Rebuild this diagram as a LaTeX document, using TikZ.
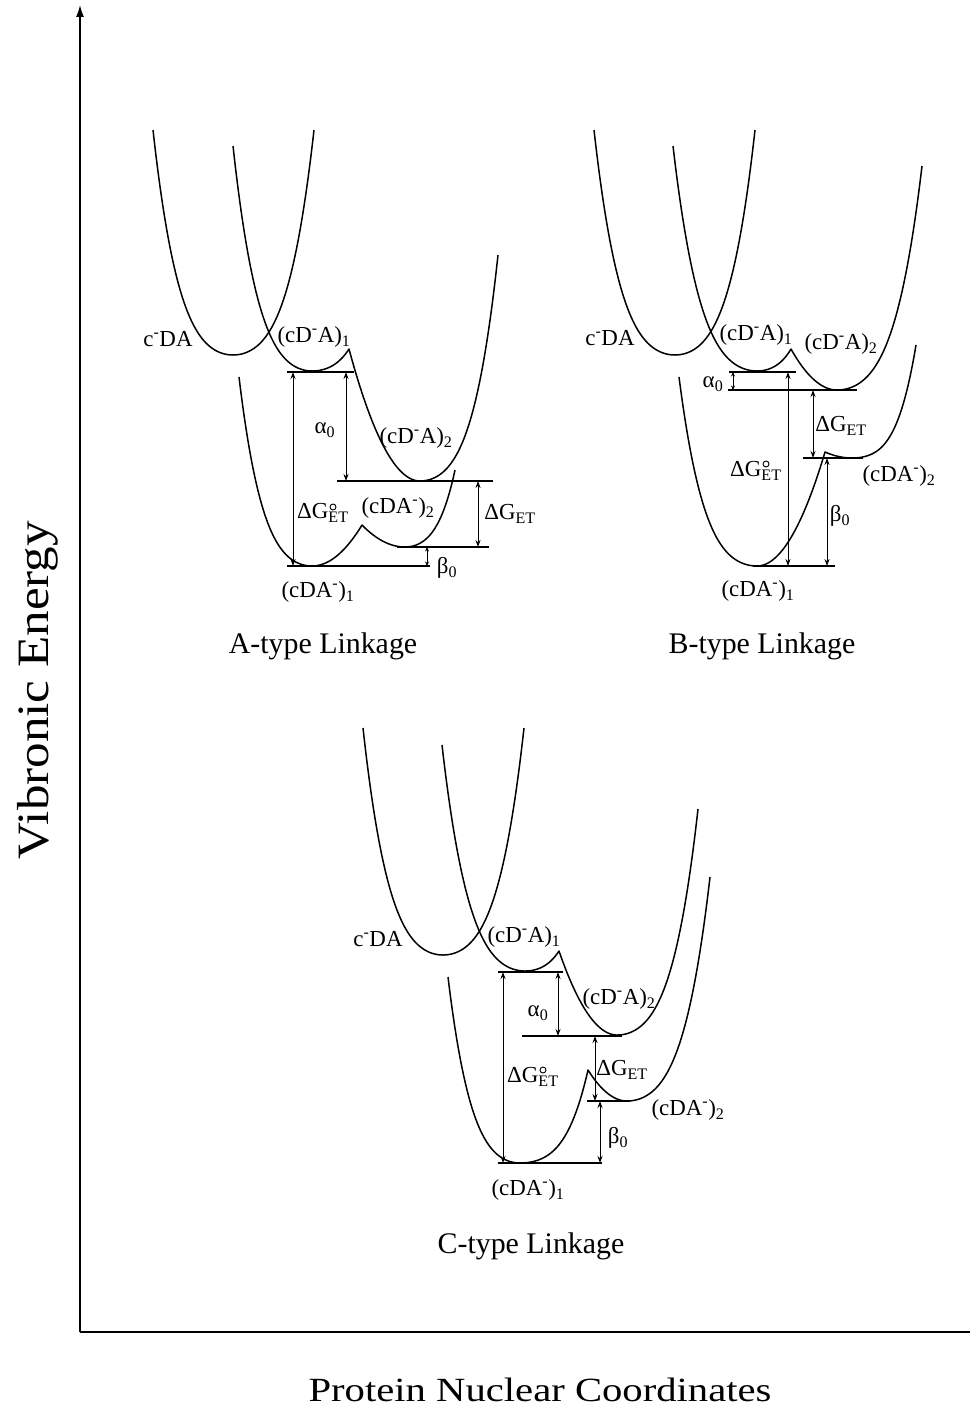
\documentclass[tikz,border=0pt]{standalone}
\usepackage{fontspec}
\setmainfont{Liberation Serif}
\newfontfamily\titlefontA{Liberation Serif}[FakeStretch=1.2]
\newfontfamily\titlefontB{Liberation Serif}[FakeStretch=1.14]
\usetikzlibrary{arrows.meta}
% well branch: vertex (#1,#2), end (#3,#4), quartic mix #5
\newcommand\uu[2]{((\x-#1)/(#2-#1))}
\newcommand\wellfn[5]{#2-(#2-#4)*((1-#5)*\uu{#1}{#3}*\uu{#1}{#3}+#5*\uu{#1}{#3}*\uu{#1}{#3}*\uu{#1}{#3}*\uu{#1}{#3})}
\newcommand\brin[5]{plot[domain=#3:#1,samples=70] (\x,{\wellfn{#1}{#2}{#3}{#4}{#5}})}
\newcommand\cbrin[5]{-- plot[domain=#3:#1,samples=70] (\x,{\wellfn{#1}{#2}{#3}{#4}{#5}})}
\newcommand\cbrout[5]{-- plot[domain=#1:#3,samples=70] (\x,{\wellfn{#1}{#2}{#3}{#4}{#5}})}
\newcommand\cmDA{c\textsuperscript{-}DA}
\newcommand\cDmA[1]{(cD\textsuperscript{-}A)\textsubscript{#1}}
\newcommand\cDAm[1]{(cDA\textsuperscript{-})\textsubscript{#1}}
\newcommand\lDG{ΔG\textsubscript{ET}}
\newcommand\myal{α\textsubscript{0}}
\newcommand\mybe{β\textsubscript{0}}
\tikzset{
  curve/.style={line width=1.5bp, line join=round},
  lvl/.style={line width=1.4bp},
  dim/.style={line width=0.9bp, {Stealth[length=7bp,width=5bp]}-{Stealth[length=7bp,width=5bp]}},
  dimsmall/.style={line width=0.9bp, {Stealth[length=4.5bp,width=4bp]}-{Stealth[length=4.5bp,width=4bp]}},
  lab/.style={font=\fontsize{23}{27}\selectfont, inner sep=0pt},
  ttl/.style={font=\fontsize{30}{34}\selectfont, inner sep=0pt},
  degree/.style={line width=0.9bp}
}
\begin{document}
\begin{tikzpicture}[x=1bp,y=-1bp]
\useasboundingbox (0,0) rectangle (970,1410);
% axes
\coordinate (O) at (80,1332);
\coordinate (Ytop) at (80,5);
\coordinate (Xend) at (970,1332);
\draw[line width=1.5bp, -{Latex[length=12bp,width=8bp]}] (O) -- (Ytop);
\draw[line width=1.8bp] (O) -- (Xend);
\node[font=\titlefontA\fontsize{34}{40}\selectfont, inner sep=0pt] (xt) at (540,1390) {Protein Nuclear Coordinates};
\node[rotate=90, font=\titlefontB\fontsize{45}{50}\selectfont, inner sep=0pt] (yt) at (38,690) {Vibronic Energy};

%================ Panel A ================
\draw[curve] \brin{233}{355}{153}{130}{.6} \cbrout{233}{355}{314}{130}{.6};
\draw[curve] \brin{312}{371}{233}{146}{.6} \cbrout{312}{371}{349}{349}{.3}
   \cbrin{420}{481}{349}{349}{0} \cbrout{420}{481}{498}{255}{.6};
\draw[curve] \brin{312}{566}{239}{377}{.6} \cbrout{312}{566}{362}{525}{0}
   \cbrin{405}{547}{362}{525}{0} \cbrout{405}{547}{455}{470}{.5};
\coordinate (a1l) at (287,372); \coordinate (a1r) at (354,372);
\coordinate (a2l) at (337,481); \coordinate (a2r) at (493,481);
\coordinate (a3l) at (397,547); \coordinate (a3r) at (489,547);
\coordinate (a4l) at (287,566); \coordinate (a4r) at (430,566);
\draw[lvl] (a1l) -- (a1r); \draw[lvl] (a2l) -- (a2r);
\draw[lvl] (a3l) -- (a3r); \draw[lvl] (a4l) -- (a4r);
\coordinate (aGt) at (293,372); \coordinate (aGb) at (293,566);
\coordinate (aAt) at (346,372); \coordinate (aAb) at (346,481);
\coordinate (aEt) at (478,481); \coordinate (aEb) at (478,547);
\coordinate (aBt) at (427,547); \coordinate (aBb) at (427,566);
\draw[dim] (aGt) -- (aGb);
\draw[dim] (aAt) -- (aAb);
\draw[dim] (aEt) -- (aEb);
\draw[dimsmall] (aBt) -- (aBb);
\node[lab] (aL1) at (168,339) {\cmDA};
\node[lab] (aL2) at (314,337) {\cDmA{1}};
\node[lab] (aL3) at (325,430) {\myal};
\node[lab] (aL4) at (416,438) {\cDmA{2}};
\node[lab, anchor=west] (aL5) at (297,513) {\lDG};
\draw[degree] (333,507) circle (3bp);
\node[lab] (aL6) at (398,508) {\cDAm{2}};
\node[lab] (aL7) at (510,514) {\lDG};
\node[lab] (aL8) at (447,568) {\mybe};
\node[lab] (aL9) at (318,592) {\cDAm{1}};
\node[ttl] (aT) at (323,646) {A-type Linkage};

%================ Panel B ================
\draw[curve] \brin{675}{355}{594}{130}{.6} \cbrout{675}{355}{755}{130}{.6};
\draw[curve] \brin{757}{371}{673}{146}{.6} \cbrout{757}{371}{791}{349}{.3}
   \cbrin{837}{390}{791}{349}{0} \cbrout{837}{390}{922}{166}{.6};
\draw[curve] \brin{757}{566}{679}{377}{.6} \cbrout{757}{566}{825}{452}{0}
   \cbrin{852}{458}{825}{452}{0} \cbrout{852}{458}{916}{345}{.7};
\coordinate (b1l) at (729,372); \coordinate (b1r) at (796,372);
\coordinate (b2l) at (728,390); \coordinate (b2r) at (857,390);
\coordinate (b3l) at (803,458); \coordinate (b3r) at (863,458);
\coordinate (b4l) at (753,566); \coordinate (b4r) at (835,566);
\draw[lvl] (b1l) -- (b1r); \draw[lvl] (b2l) -- (b2r);
\draw[lvl] (b3l) -- (b3r); \draw[lvl] (b4l) -- (b4r);
\coordinate (bAt) at (733,372); \coordinate (bAb) at (733,390);
\coordinate (bGt) at (788,372); \coordinate (bGb) at (788,566);
\coordinate (bEt) at (813,390); \coordinate (bEb) at (813,458);
\coordinate (bBt) at (827,458); \coordinate (bBb) at (827,566);
\draw[dimsmall] (bAt) -- (bAb);
\draw[dim] (bGt) -- (bGb);
\draw[dim] (bEt) -- (bEb);
\draw[dim] (bBt) -- (bBb);
\node[lab] (bL1) at (610,338) {\cmDA};
\node[lab] (bL2) at (756,335) {\cDmA{1}};
\node[lab] (bL3) at (841,344) {\cDmA{2}};
\node[lab] (bL4) at (713,384) {\myal};
\node[lab] (bL5) at (841,426) {\lDG};
\node[lab, anchor=west] (bL6) at (730,471) {\lDG};
\draw[degree] (766,464) circle (3bp);
\node[lab] (bL7) at (899,476) {\cDAm{2}};
\node[lab] (bL8) at (840,516) {\mybe};
\node[lab] (bL9) at (758,591) {\cDAm{1}};
\node[ttl] (bT) at (762,646) {B-type Linkage};

%================ Panel C ================
\draw[curve] \brin{443}{955}{363}{728}{.6} \cbrout{443}{955}{524}{728}{.6};
\draw[curve] \brin{525}{971}{442}{745}{.6} \cbrout{525}{971}{559}{951}{.3}
   \cbrin{617}{1035}{559}{951}{0} \cbrout{617}{1035}{698}{809}{.6};
\draw[curve] \brin{520}{1163}{448}{977}{.6} \cbrout{520}{1163}{588}{1070}{.6}
   \cbrin{627}{1101}{588}{1070}{0} \cbrout{627}{1101}{710}{877}{.6};
\coordinate (c1l) at (498,972); \coordinate (c1r) at (563,972);
\coordinate (c2l) at (522,1036); \coordinate (c2r) at (622,1036);
\coordinate (c3l) at (587,1101); \coordinate (c3r) at (630,1101);
\coordinate (c4l) at (498,1163); \coordinate (c4r) at (602,1163);
\draw[lvl] (c1l) -- (c1r); \draw[lvl] (c2l) -- (c2r);
\draw[lvl] (c3l) -- (c3r); \draw[lvl] (c4l) -- (c4r);
\coordinate (cGt) at (503,972); \coordinate (cGb) at (503,1163);
\coordinate (cAt) at (558,972); \coordinate (cAb) at (558,1036);
\coordinate (cEt) at (595,1036); \coordinate (cEb) at (595,1101);
\coordinate (cBt) at (600,1101); \coordinate (cBb) at (600,1163);
\draw[dim] (cGt) -- (cGb);
\draw[dim] (cAt) -- (cAb);
\draw[dim] (cEt) -- (cEb);
\draw[dim] (cBt) -- (cBb);
\node[lab] (cL1) at (378,939) {\cmDA};
\node[lab] (cL2) at (524,937) {\cDmA{1}};
\node[lab] (cL3) at (538,1013) {\myal};
\node[lab] (cL4) at (619,999) {\cDmA{2}};
\node[lab, anchor=west] (cL5) at (507,1077) {\lDG};
\node[lab] (cL6) at (622,1070) {\lDG};
\draw[degree] (543,1070) circle (3bp);
\node[lab] (cL7) at (688,1110) {\cDAm{2}};
\node[lab] (cL8) at (618,1138) {\mybe};
\node[lab] (cL9) at (528,1190) {\cDAm{1}};
\node[ttl] (cT) at (531,1246) {C-type Linkage};
\end{tikzpicture}
\end{document}
